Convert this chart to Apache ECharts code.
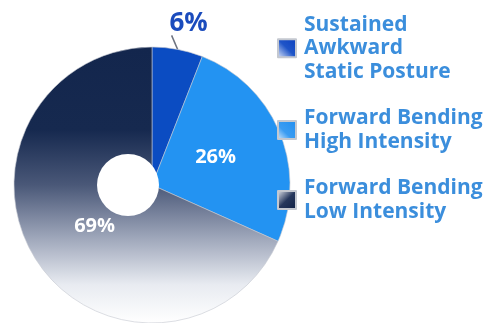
<!DOCTYPE html>
<html>
<head>
<meta charset="utf-8">
<script src="https://cdn.jsdelivr.net/npm/echarts@6/dist/echarts.min.js"></script>
<style>
  html, body { margin: 0; padding: 0; background: #fff; }
  #app { width: 487px; height: 323px; }
</style>
</head>
<body>
<div id="app"></div>
<script>
const categories = [
  "Sustained\nAwkward\nStatic Posture",
  "Forward Bending\nHigh Intensity",
  "Forward Bending\nLow Intensity"
];
const shares = [6, 26, 69];

const grad = (stops) => ({
  type: "linear", x: 0, y: 0, x2: 0, y2: 1,
  colorStops: stops.map(([offset, color]) => ({ offset, color }))
});

const sliceColors = [
  "#0b4cc2",
  "#2393f2",
  grad([[0, "#13264d"], [0.3, "#16294f"], [0.5, "#4a5878"], [0.7, "#a2aabd"], [0.86, "#e8ebf1"], [1, "#ffffff"]])
];

const legendIcons = [
  { type: "linear", x: 1, y: 0, x2: 0, y2: 1, colorStops: [{ offset: 0, color: "#0b3fbf" }, { offset: 0.5, color: "#1f55c8" }, { offset: 1, color: "#e8eefa" }] },
  { type: "linear", x: 1, y: 0, x2: 0, y2: 1, colorStops: [{ offset: 0, color: "#1f8ef0" }, { offset: 0.6, color: "#3a9cf2" }, { offset: 1, color: "#dcecfc" }] },
  { type: "linear", x: 1, y: 1, x2: 0, y2: 0, colorStops: [{ offset: 0, color: "#0f1f44" }, { offset: 0.5, color: "#26375c" }, { offset: 1, color: "#eef0f5" }] }
];

const labelFont = "'Open Sans', 'Noto Sans', sans-serif";

// per-slice label styles
const sliceLabels = [
  { position: "outside", color: "#1b4cbd", fontSize: 26 },
  { position: "inside", color: "#fff", fontSize: 20, offset: [-3, 0] },
  { position: "inside", color: "#fff", fontSize: 20, offset: [3, 2] }
];

window.addEventListener("load", () => {
  const chart = echarts.init(document.getElementById("app"));
  chart.setOption({
    backgroundColor: "#fff",
    animation: false,
    legend: {
      orient: "vertical",
      left: 272,
      top: 8,
      itemWidth: 18,
      itemHeight: 18,
      itemGap: 23,
      icon: "rect",
      data: categories.map((name, i) => ({ name, itemStyle: { color: legendIcons[i] } })),
      textStyle: {
        color: "#3b8edc",
        fontFamily: "'Open Sans', sans-serif",
        fontWeight: "bold",
        fontSize: 21,
        lineHeight: 23.5,
        padding: [0, 0, 0, 3]
      }
    },
    graphic: [{
      type: "circle",
      shape: { cx: 128, cy: 185, r: 31 },
      style: { fill: "#fff" },
      z: 10
    }],
    series: [{
      type: "pie",
      center: [152, 185],
      radius: [0, 138],
      startAngle: 90,
      clockwise: true,
      avoidLabelOverlap: false,
      itemStyle: { borderColor: "#c4c8d0", borderWidth: 0.6 },
      label: {
        formatter: "{c}%",
        fontFamily: labelFont,
        fontWeight: "bold"
      },
      labelLine: { show: false },
      labelLayout: (params) => {
        if (params.dataIndex !== 0 || !params.labelLinePoints) return {};
        const p0 = params.labelLinePoints[0];
        const end = [p0[0] - 6, p0[1] - 14];
        return {
          x: end[0] + 17,
          y: end[1] + 1,
          align: "center",
          verticalAlign: "bottom",
          labelLinePoints: [p0, end, end]
        };
      },
      data: categories.map((name, i) => ({
        name,
        value: shares[i],
        itemStyle: { color: sliceColors[i] },
        label: sliceLabels[i],
        labelLine: i === 0
          ? { show: true, length: 12, length2: 0, lineStyle: { color: "#6d7380", width: 1.5 } }
          : { show: false }
      }))
    }]
  });
});
</script>
</body>
</html>
